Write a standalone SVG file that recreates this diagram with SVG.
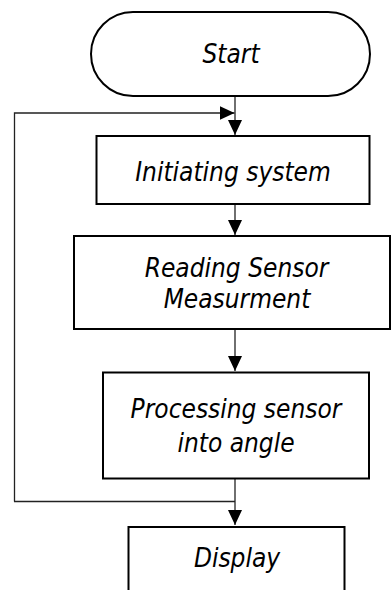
<svg xmlns="http://www.w3.org/2000/svg" width="391" height="590" viewBox="0 0 391 590">
<defs>
<style>
.node{fill:#fff;stroke:#000;stroke-width:2}
.lbl{font-family:"DejaVu Sans Condensed","DejaVu Sans",sans-serif;font-stretch:condensed;font-style:italic;font-size:26px;text-anchor:middle;fill:#000}
.edge{fill:none;stroke:#222;stroke-width:1.3}
</style>
<marker id="ah" viewBox="0 0 15 14" refX="15" refY="7" markerWidth="15" markerHeight="14" markerUnits="userSpaceOnUse" orient="auto">
<path d="M0,0 L15,7 L0,14 Z" fill="#000"/>
</marker>
</defs>
<rect width="391" height="590" fill="#fff"/>
<g id="edges">
<path class="edge" d="M235,96 V135" marker-end="url(#ah)"/>
<path class="edge" d="M14.5,501.5 V113 H234.5" marker-end="url(#ah)"/>
<path class="edge" d="M235,204 V235" marker-end="url(#ah)"/>
<path class="edge" d="M235,329 V371" marker-end="url(#ah)"/>
<path class="edge" d="M235,478 V525" marker-end="url(#ah)"/>
<path class="edge" d="M14,501.5 H235"/>
</g>
<g id="start">
<rect class="node" x="91" y="12" width="279" height="84" rx="42" ry="42"/>
<text class="lbl" x="231" y="63">Start</text>
</g>
<g id="init">
<rect class="node" x="96.5" y="136" width="273" height="68"/>
<text class="lbl" x="233" y="181">Initiating system</text>
</g>
<g id="read">
<rect class="node" x="74" y="236" width="316" height="93"/>
<text class="lbl" x="236.5" y="277">Reading Sensor</text>
<text class="lbl" x="237" y="308">Measurment</text>
</g>
<g id="proc">
<rect class="node" x="103" y="372.5" width="266" height="106"/>
<text class="lbl" x="236" y="418">Processing sensor</text>
<text class="lbl" x="236" y="452">into angle</text>
</g>
<g id="display">
<rect class="node" x="128.5" y="527" width="216" height="80"/>
<text class="lbl" x="237" y="567">Display</text>
</g>
</svg>
